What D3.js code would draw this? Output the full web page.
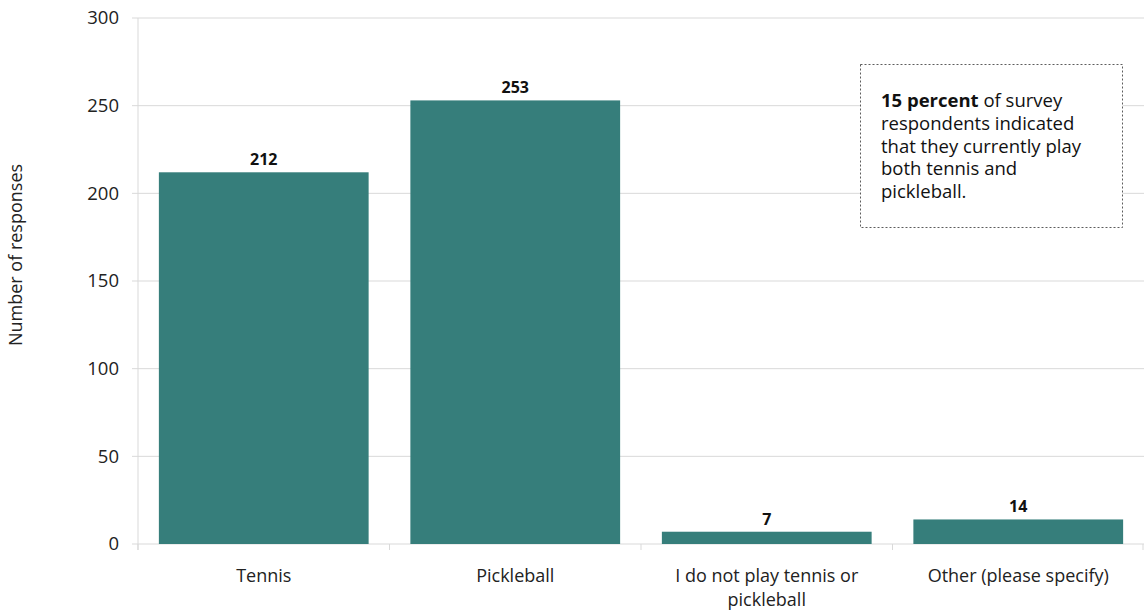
<!DOCTYPE html>
<html><head><meta charset="utf-8">
<script src="https://cdn.jsdelivr.net/npm/d3@7"></script>
<style>
body{margin:0;background:#fff;}
svg{display:block;font-family:"Segoe UI","Open Sans","Noto Sans",sans-serif;}
</style></head>
<body><svg id="c" width="1144" height="613"></svg>
<script>
const categories = ["Tennis", "Pickleball", "I do not play tennis or pickleball", "Other (please specify)"];
const categoryLines = [["Tennis"], ["Pickleball"], ["I do not play tennis or", "pickleball"], ["Other (please specify)"]];
const values = [212, 253, 7, 14];
const yTicks = [0, 50, 100, 150, 200, 250, 300];
const yTitle = "Number of responses";
const noteBold = "15 percent";
const noteLines = [" of survey", "respondents indicated", "that they currently play", "both tennis and", "pickleball."];

const svg = d3.select("#c");
const m = {left:138, right:0, top:18, bottom:69};
const W = 1144, H = 613;
const x = d3.scaleBand().domain(categories).range([m.left, W - m.right]).paddingInner(0.166).paddingOuter(0.083);
const y = d3.scaleLinear().domain([0, 300]).range([H - m.bottom, m.top]);
const grid = "#d9d9d9";

// gridlines
svg.append("g").selectAll("line").data(yTicks).join("line")
  .attr("x1", m.left - 6).attr("x2", W).attr("y1", d => y(d)).attr("y2", d => y(d))
  .attr("stroke", grid).attr("stroke-width", 1);
// y axis line
svg.append("line").attr("x1", m.left).attr("x2", m.left).attr("y1", y(300)).attr("y2", y(0) + 6)
  .attr("stroke", grid);
// x tick marks at band boundaries
const bounds = categories.map(c => x(c) - x.step()*x.paddingInner()/2 );
bounds.push(W - 1);
bounds[0] = m.left;
svg.append("g").selectAll("line").data(bounds).join("line")
  .attr("x1", d => d).attr("x2", d => d).attr("y1", y(0)).attr("y2", y(0) + 6).attr("stroke", grid);

// y tick labels
svg.append("g").selectAll("text").data(yTicks).join("text")
  .attr("x", m.left - 19).attr("y", d => y(d)).attr("dy", "0.35em")
  .attr("text-anchor", "end").attr("font-size", 18.5).attr("fill", "#222").text(d => d);

// y title
svg.append("text").attr("transform", `translate(22,255) rotate(-90)`)
  .attr("text-anchor", "middle").attr("font-size", 18).attr("fill", "#222").text(yTitle);

// bars
svg.append("g").selectAll("rect").data(values).join("rect")
  .attr("x", (d,i) => x(categories[i])).attr("width", x.bandwidth())
  .attr("y", d => y(d)).attr("height", d => y(0) - y(d)).attr("fill", "#367e7b");

// value labels
svg.append("g").selectAll("text").data(values).join("text")
  .attr("x", (d,i) => x(categories[i]) + x.bandwidth()/2).attr("y", d => y(d) - 7)
  .attr("text-anchor", "middle").attr("font-size", 16).attr("font-weight", "bold").attr("fill", "#111").text(d => d);

// category labels
const cl = svg.append("g").selectAll("text").data(categories).join("text")
  .attr("text-anchor", "middle").attr("font-size", 18).attr("fill", "#222")
  .attr("x", c => x(c) + x.bandwidth()/2);
cl.each(function(c, i){
  d3.select(this).selectAll("tspan").data(categoryLines[i]).join("tspan")
    .attr("x", x(c) + x.bandwidth()/2).attr("y", (d, j) => 582 + j*24).text(d => d);
});

// annotation box
svg.append("rect").attr("x", 860.5).attr("y", 64.5).attr("width", 262).attr("height", 163)
  .attr("fill", "#fff").attr("stroke", "#333").attr("stroke-width", 0.8).attr("stroke-dasharray", "2,2");
const nt = svg.append("text").attr("font-size", 18.5).attr("fill", "#111");
nt.append("tspan").attr("x", 881).attr("y", 107).attr("font-weight", "bold").text(noteBold);
nt.append("tspan").text(noteLines[0]);
noteLines.slice(1).forEach((l, i) => {
  nt.append("tspan").attr("x", 881).attr("y", 107 + (i+1)*22.8).text(l);
});
</script></body></html>
